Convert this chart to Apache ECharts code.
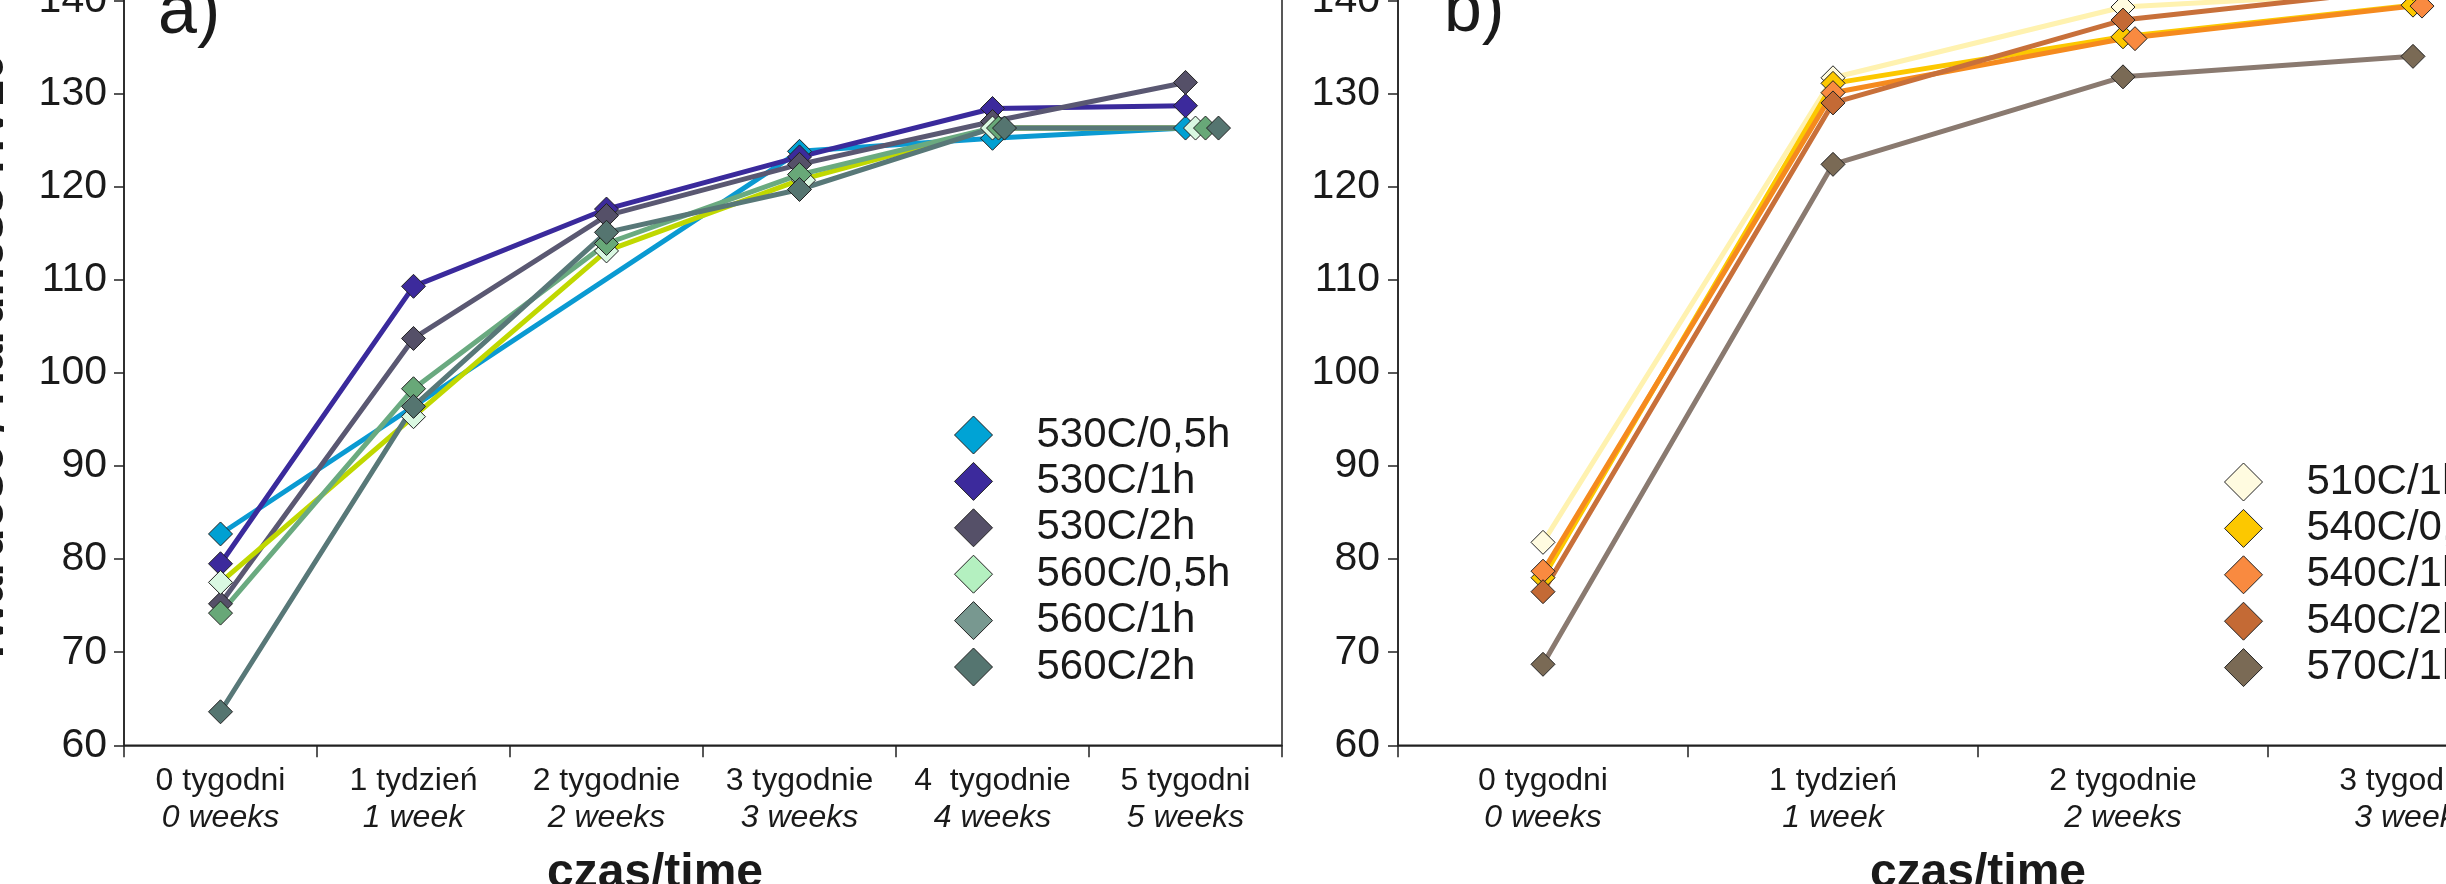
<!DOCTYPE html>
<html>
<head>
<meta charset="utf-8">
<script src="https://cdn.jsdelivr.net/npm/echarts@6/dist/echarts.min.js"></script>
<style>
html, body { margin: 0; padding: 0; background: #fff; }
#main { width: 2446px; height: 884px; }
</style>
</head>
<body>
<div id="main"></div>
<script>
// etykiety osi X (tydzien / week)
var weeksPl = ['0 tygodni', '1 tydzień', '2 tygodnie', '3 tygodnie', '4  tygodnie', '5 tygodni'];
var weeksEn = ['0 weeks', '1 week', '2 weeks', '3 weeks', '4 weeks', '5 weeks'];
var weeksPlB = ['0 tygodni', '1 tydzień', '2 tygodnie', '3 tygodnie'];
var weeksEnB = ['0 weeks', '1 week', '2 weeks', '3 weeks'];

// panel a) twardosc HV
var namesA = ['530C/0,5h', '530C/1h', '530C/2h', '560C/0,5h', '560C/1h', '560C/2h'];
var a530_05 = [82.7, null, null, 123.8, 125.2, 126.3];
var a530_1 = [79.5, 109.3, 117.6, 123.2, 128.4, 128.7];
var a530_2 = [75.2, 103.7, 116.9, 122.4, 127.0, 131.2];
var a560_05 = [77.5, 95.3, 113.1, 120.7, 126.3, 126.3];
var a560_1 = [74.2, 98.3, 113.9, 121.3, 126.3, 126.3];
var a560_2 = [63.6, 96.4, 115.1, 119.7, 126.3, 126.3];

// panel b)
var namesB = ['510C/1h', '540C/0,5h', '540C/1h', '540C/2h', '570C/1h'];
var b510_1 = [81.8, 131.7, 139.3, 141.0];
var b540_05 = [78.0, 131.1, 136.1, 139.5];
var b540_1 = [78.7, 130.1, 135.9, 139.4];
var b540_2 = [76.5, 129.0, 137.9, 141.3];
var b570_1 = [68.7, 122.4, 131.8, 134.0];

var yTicks = [60, 150, 10];

var FONT = '"Liberation Sans", Arial, sans-serif';
var INK = '#1a1a1a';

var lineColA = ['#0a9ad2', '#3a2a9c', '#5a5872', '#c0d800', '#6aaa80', '#587878'];
var dotColA = ['#00a0d2', '#3c2a9c', '#555068', '#daf8e2', '#68a878', '#557570'];
var legColA = ['#00a3d5', '#3c2a9c', '#555068', '#b4f0c0', '#789890', '#557570'];
var lineColB = ['#fff2b0', '#fcc800', '#f58a1e', '#c8703a', '#8a7a70'];
var dotColB = ['#fffbe0', '#fcc800', '#f98a40', '#c46a35', '#7a6a55'];

// przesuniecia markerow (jak w oryginale)
var shiftA = { 3: [0, 0, 0, 4, 0, 10], 4: [0, 0, 0, 0, 6, 20], 5: [0, 0, 0, 0, 12, 33] };
var shiftB = { 2: [0, 0, 12, 9] };

var myChart = echarts.init(document.getElementById('main'));

function makeSeries(name, vals, lineCol, dotCol, gi, shifts) {
	var data = [];
	for (var i = 0; i < vals.length; i++) {
		var d = { value: vals[i] };
		if (shifts && shifts[i]) d.symbolOffset = [shifts[i], 0];
		data.push(d);
	}
	return {
		name: name,
		type: 'line',
		xAxisIndex: gi,
		yAxisIndex: gi,
		data: data,
		symbol: 'diamond',
		symbolSize: 24,
		showSymbol: true,
		connectNulls: true,
		lineStyle: { color: lineCol, width: 5 },
		itemStyle: { color: dotCol, borderColor: '#222', borderWidth: 1 },
		emphasis: { disabled: true },
		z: 2
	};
}

function xAxisFor(gi, pl, en, namePad) {
	return {
		type: 'category',
		gridIndex: gi,
		data: pl,
		boundaryGap: true,
		axisLine: { lineStyle: { color: '#222', width: 1.5 } },
		axisTick: { show: true, length: 12, interval: 0, lineStyle: { color: '#222', width: 1.5 } },
		axisLabel: {
			interval: 0,
			margin: 17,
			color: INK,
			formatter: function (v, i) { return '{n|' + pl[i] + '}\n{i|' + en[i] + '}'; },
			rich: {
				n: { fontSize: 32, lineHeight: 37, fontFamily: FONT, color: INK },
				i: { fontSize: 32, lineHeight: 37, fontFamily: FONT, fontStyle: 'italic', color: INK }
			}
		},
		splitLine: { show: false },
		name: 'czas/time',
		nameLocation: 'middle',
		nameGap: 104,
		nameTextStyle: { fontSize: 48, fontWeight: 'bold', fontFamily: FONT, color: INK, padding: namePad }
	};
}

function yAxisFor(gi, gap) {
	return {
		type: 'value',
		gridIndex: gi,
		min: yTicks[0],
		max: yTicks[1],
		interval: yTicks[2],
		axisLine: { show: true, lineStyle: { color: '#222', width: 1.5 } },
		axisTick: { show: true, length: 10, lineStyle: { color: '#222', width: 1.5 } },
		axisLabel: { fontSize: 41, fontFamily: FONT, color: INK, margin: gap },
		splitLine: { show: false }
	};
}

function legendFor(names, cols, left, top) {
	var items = [];
	for (var i = 0; i < names.length; i++) {
		items.push({ name: names[i], itemStyle: { color: cols[i], borderColor: '#222', borderWidth: 1 } });
	}
	return {
		orient: 'vertical',
		left: left,
		top: top,
		icon: 'diamond',
		itemWidth: 38,
		itemHeight: 38,
		itemGap: 4.4,
		selectedMode: false,
		data: items,
		textStyle: { fontSize: 42, fontFamily: FONT, color: INK, lineHeight: 38, padding: [0, 0, 0, 39] }
	};
}

var series = [];
var valsA = [a530_05, a530_1, a530_2, a560_05, a560_1, a560_2];
for (var i = 0; i < namesA.length; i++) {
	series.push(makeSeries(namesA[i], valsA[i], lineColA[i], dotColA[i], 0, shiftA[i]));
}
var valsB = [b510_1, b540_05, b540_1, b540_2, b570_1];
for (var j = 0; j < namesB.length; j++) {
	series.push(makeSeries(namesB[j], valsB[j], lineColB[j], dotColB[j], 1, shiftB[j]));
}

option = {
	animation: false,
	backgroundColor: '#fff',
	textStyle: { fontFamily: FONT },
	grid: [
		{ left: 124, width: 1158, top: -92.6, height: 837.9, show: true, borderColor: '#222', borderWidth: 1.5, backgroundColor: 'transparent', containLabel: false, outerBoundsMode: 'none' },
		{ left: 1398, width: 1160, top: -92.6, height: 837.9, show: true, borderColor: '#222', borderWidth: 1.5, backgroundColor: 'transparent', containLabel: false, outerBoundsMode: 'none' }
	],
	xAxis: [xAxisFor(0, weeksPl, weeksEn, [0, 96, 0, 0]), xAxisFor(1, weeksPlB, weeksEnB, [0, 0, 0, 0])],
	yAxis: [yAxisFor(0, 17), yAxisFor(1, 18)],
	legend: [legendFor(namesA, legColA, 949, 409), legendFor(namesB, dotColB, 2219, 456)],
	tooltip: { show: false },
	graphic: [
		{ type: 'text', x: 158, y: 14, style: { text: 'a)', fontSize: 70, fontFamily: FONT, fill: INK, verticalAlign: 'middle' } },
		{ type: 'text', x: 1444, y: 12, style: { text: 'b)', fontSize: 68, fontFamily: FONT, fill: INK, verticalAlign: 'middle' } },
		{ type: 'text', x: 14, y: 360, rotation: Math.PI / 2, style: { text: 'Twardość / Hardness HV10', fontSize: 48, fontWeight: 'bold', fontFamily: FONT, fill: INK, align: 'center', verticalAlign: 'bottom' } }
	],
	series: series
};
myChart.setOption(option);
</script>
</body>
</html>
